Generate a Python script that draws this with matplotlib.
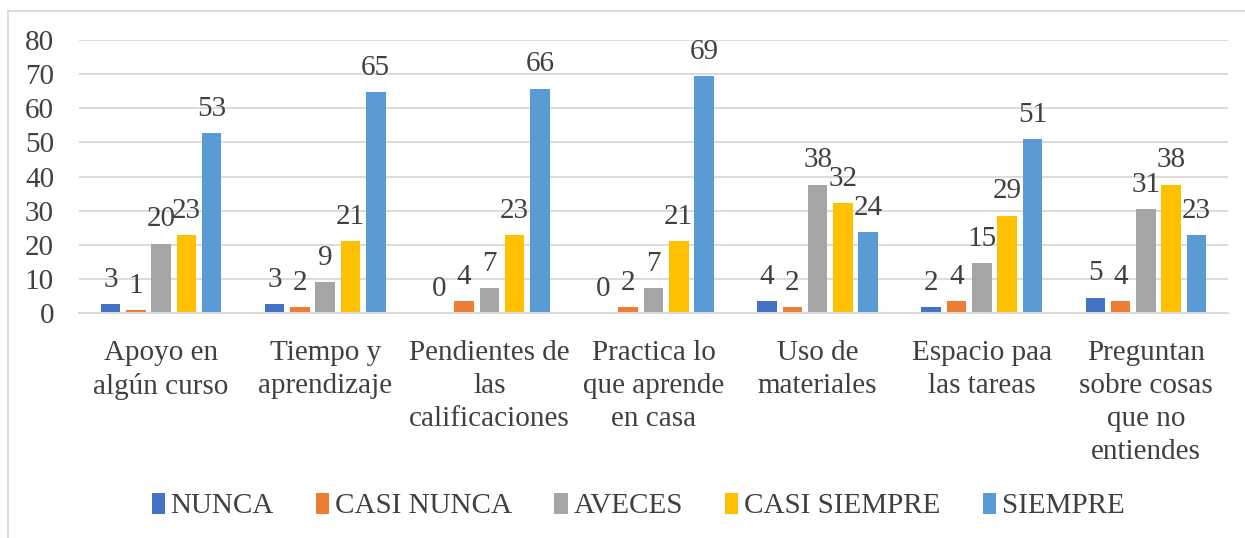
import matplotlib
matplotlib.use("Agg")
import matplotlib.pyplot as plt
from matplotlib.lines import Line2D
import numpy as np

plt.rcParams['font.family'] = ['Liberation Serif', 'DejaVu Serif']

categories = ["Apoyo en\nalgún curso", "Tiempo y\naprendizaje", "Pendientes de\nlas\ncalificaciones",
              "Practica lo\nque aprende\nen casa", "Uso de\nmateriales", "Espacio paa\nlas tareas",
              "Preguntan\nsobre cosas\nque no\nentiendes"]
series = ["NUNCA", "CASI NUNCA", "AVECES", "CASI SIEMPRE", "SIEMPRE"]
nunca = [2.7, 2.7, 0.0, 0.0, 3.5, 1.8, 4.6]
casi_nunca = [0.9, 1.8, 3.6, 1.8, 1.8, 3.5, 3.5]
aveces = [20.4, 9.1, 7.3, 7.3, 37.7, 14.6, 30.6]
casi_siempre = [23.0, 21.2, 23.0, 21.2, 32.3, 28.6, 37.7]
siempre = [52.8, 64.8, 65.8, 69.4, 23.9, 51.0, 22.9]
colors = ["#4472C4", "#ED7D31", "#A5A5A5", "#FFC000", "#5B9BD5"]
yticks = [0, 10, 20, 30, 40, 50, 60, 70, 80]

W, H = 1245, 538
fig = plt.figure(figsize=(W / 100, H / 100), dpi=100)
ax = fig.add_axes([79 / W, 1 - 313.3 / H, (1228 - 79) / W, (313.3 - 40) / H])

txt = "#404040"
FS = 21
data = [nunca, casi_nunca, aveces, casi_siempre, siempre]
x = np.arange(len(categories))
step = 0.154
bw = 0.119
for i, (name, vals, c) in enumerate(zip(series, data, colors)):
    pos = x + (i - 2) * step
    ax.bar(pos, vals, bw, color=c, label=name, zorder=3)
    for xp, v in zip(pos, vals):
        ax.annotate(f"{v:.0f}", (xp, v), xytext=(0, 8), textcoords="offset points",
                    ha="center", va="bottom", fontsize=FS, color=txt, zorder=4)

ax.set_xlim(-0.5, len(categories) - 0.5)
ax.set_ylim(0, 80)
ax.set_yticks(yticks)
ax.set_xticks(x)
ax.set_xticklabels(categories, fontsize=FS, color=txt, linespacing=1.35, va="top")
ax.tick_params(axis="y", length=0, pad=18, labelsize=FS, labelcolor=txt)
ax.tick_params(axis="x", length=0, pad=19)
ax.grid(axis="y", color="#d9d9d9", linewidth=1.3, zorder=0)
for s in ["top", "right", "left"]:
    ax.spines[s].set_visible(False)
ax.spines["bottom"].set_color("#d9d9d9")
ax.spines["bottom"].set_linewidth(1.5)
ax.spines["bottom"].set_zorder(3.5)

leg = fig.legend(loc="center", bbox_to_anchor=(638 / W, 1 - 506 / H), ncol=5, frameon=False,
                 fontsize=FS, handlelength=0.45, handleheight=0.75, handletextpad=0.2,
                 columnspacing=1.45)
for t in leg.get_texts():
    t.set_color(txt)

fig.add_artist(Line2D([7.5 / W, 7.5 / W], [0, 1 - 10.5 / H], transform=fig.transFigure,
                      color="#d9d9d9", linewidth=1.3))
fig.add_artist(Line2D([7.5 / W, 1], [1 - 10.5 / H, 1 - 10.5 / H], transform=fig.transFigure,
                      color="#d9d9d9", linewidth=1.3))

fig.savefig("out.png", dpi=100)
